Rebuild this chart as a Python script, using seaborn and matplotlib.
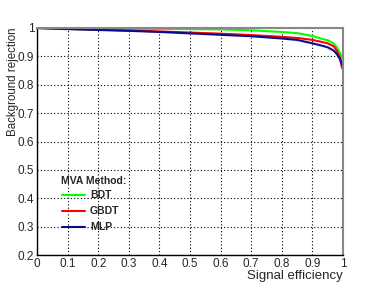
import numpy as np
import pandas as pd
import matplotlib
matplotlib.use("Agg")
import matplotlib.pyplot as plt
from matplotlib.ticker import MultipleLocator
import seaborn as sns

sig_eff = [0, 0.1, 0.2, 0.3, 0.4, 0.5, 0.6, 0.7, 0.8, 0.85, 0.9, 0.93, 0.95, 0.97, 0.98, 0.99, 0.997]
bdt = [1.0, 0.999, 0.998, 0.997, 0.997, 0.996, 0.995, 0.992, 0.986, 0.982, 0.972, 0.962, 0.957, 0.945, 0.932, 0.912, 0.89]
gbdt = [1.0, 0.997, 0.994, 0.991, 0.988, 0.984, 0.980, 0.975, 0.969, 0.965, 0.958, 0.951, 0.946, 0.935, 0.92, 0.895, 0.858]
mlp = [1.0, 0.996, 0.993, 0.990, 0.986, 0.981, 0.976, 0.971, 0.963, 0.958, 0.946, 0.938, 0.932, 0.92, 0.908, 0.89, 0.87]

methods = ["BDT", "GBDT", "MLP"]
colors = ["#00ff00", "#ff0000", "#0a0a8c"]

df = pd.concat([
    pd.DataFrame({"eff": sig_eff, "rej": bdt, "method": "BDT"}),
    pd.DataFrame({"eff": sig_eff, "rej": gbdt, "method": "GBDT"}),
    pd.DataFrame({"eff": sig_eff, "rej": mlp, "method": "MLP"}),
])

sns.set_style("white")
plt.rcParams["font.family"] = ["Liberation Sans", "DejaVu Sans"]

fig = plt.figure(figsize=(3.81, 2.84), dpi=100)
ax = fig.add_axes([37 / 381, 1 - 255 / 284, 306 / 381, 227 / 284])

sns.lineplot(data=df, x="eff", y="rej", hue="method", hue_order=methods,
             palette=colors, linewidth=1.5, ax=ax, legend=False, sort=False)

ax.set_xlim(0, 1)
ax.set_ylim(0.2, 1)
ax.xaxis.set_major_locator(MultipleLocator(0.1))
ax.xaxis.set_minor_locator(MultipleLocator(0.02))
ax.yaxis.set_major_locator(MultipleLocator(0.1))
ax.yaxis.set_minor_locator(MultipleLocator(0.02))
ax.set_xticklabels([f"{v:g}" for v in np.round(ax.get_xticks(), 1)])
ax.set_yticklabels([f"{v:g}" for v in np.round(ax.get_yticks(), 1)])
ax.tick_params(which="major", direction="in", length=7, width=1, labelsize=8.5, pad=2,
               top=False, right=False)
ax.tick_params(which="minor", direction="in", length=3.5, width=1, top=False, right=False)
ax.grid(True, which="major", color="black", linestyle=(0, (1, 2)), linewidth=0.8)

for side in ["left", "bottom"]:
    ax.spines[side].set_color("black")
    ax.spines[side].set_linewidth(1)
for side in ["top", "right"]:
    ax.spines[side].set_color("#888888")
    ax.spines[side].set_linewidth(1.5)

ax.set_xlabel("Signal efficiency", fontsize=9.5)
ax.xaxis.set_label_coords(1.0, -0.068)
ax.xaxis.label.set_horizontalalignment("right")
ax.set_ylabel("Background rejection", fontsize=8.3)
ax.yaxis.set_label_coords(-0.078, 1.0)
ax.yaxis.label.set_verticalalignment("center")
ax.yaxis.label.set_horizontalalignment("right")

# legend block
ax.text(0.08, 0.462, "MVA Method:", fontsize=7.5, fontweight="bold", va="center")
for i, (name, col) in enumerate(zip(methods, colors)):
    yy = 0.4115 - i * 0.0564
    ax.plot([0.082, 0.157], [yy, yy], color=col, linewidth=1.5)
    ax.text(0.173, yy, name, fontsize=7.5, fontweight="bold", va="center")

fig.savefig("out.png", dpi=100)
